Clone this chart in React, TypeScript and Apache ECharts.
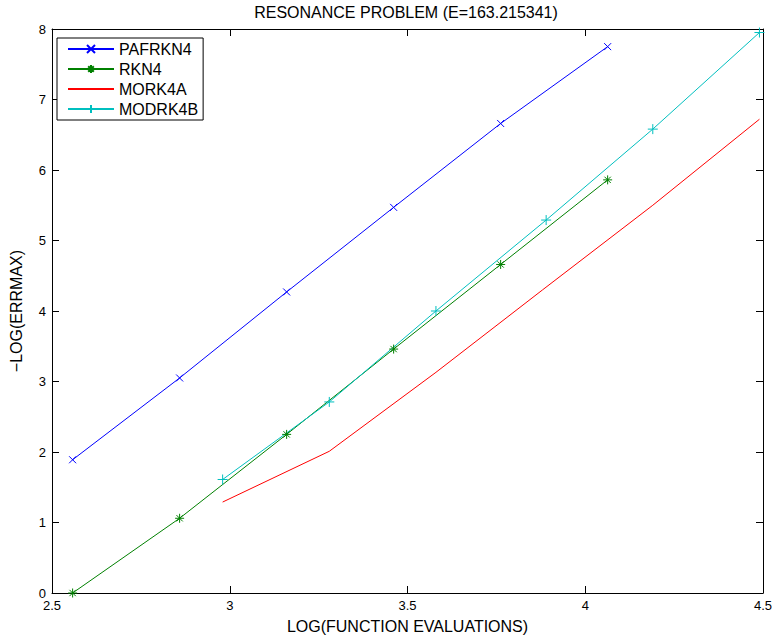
import React, { useEffect, useRef } from "react";
import * as echarts from "echarts";

const xTicks = [2.5, 3, 3.5, 4, 4.5];
const yTicks = [0, 1, 2, 3, 4, 5, 6, 7, 8];

const pafrkn4X = [2.558, 2.859, 3.16, 3.461, 3.762, 4.063];
const pafrkn4Y = [1.89, 3.05, 4.27, 5.47, 6.66, 7.75];

const rkn4X = [2.558, 2.859, 3.16, 3.461, 3.762, 4.063];
const rkn4Y = [0.0, 1.06, 2.25, 3.46, 4.66, 5.86];

const mork4aX = [2.98, 3.28, 3.58, 3.88, 4.19, 4.49];
const mork4aY = [1.29, 2.01, 3.13, 4.3, 5.5, 6.72];

const modrk4bX = [2.98, 3.28, 3.58, 3.89, 4.19, 4.49];
const modrk4bY = [1.61, 2.71, 4.0, 5.29, 6.58, 7.95];

const FONT = "'Liberation Sans', Arial, Helvetica, sans-serif";

const X_MARK = "path://M0,0L10,10M10,0L0,10";
const STAR_MARK = "path://M5,0L5,10M0,5L10,5M1.5,1.5L8.5,8.5M8.5,1.5L1.5,8.5";
const PLUS_MARK = "path://M5,0L5,10M0,5L10,5";

const zip = (xs: number[], ys: number[]) => xs.map((x, i) => [x, ys[i]]);

function makeSeries(name: string, xs: number[], ys: number[], color: string, symbol: string, size: number) {
  return {
    name,
    type: "line",
    data: zip(xs, ys),
    xAxisIndex: 0,
    yAxisIndex: 0,
    symbol,
    symbolSize: size,
    showSymbol: symbol !== "none",
    lineStyle: { color, width: 1 },
    itemStyle: { color, borderColor: color, borderWidth: 1 },
    emphasis: { disabled: true },
  };
}

export default function App() {
  const ref = useRef<HTMLDivElement>(null);

  useEffect(() => {
    document.body.style.margin = "0";
    if (!ref.current) return;
    const chart = echarts.init(ref.current, null, { renderer: "svg" });
    const axisCommon = {
      type: "value",
      axisLine: { show: true, onZero: false, lineStyle: { color: "#000", width: 1 } },
      axisTick: { show: true, inside: true, length: 7, lineStyle: { color: "#000", width: 1 } },
      splitLine: { show: false },
    };
    const labelStyle = { color: "#000", fontFamily: FONT, fontSize: 13 };
    chart.setOption({
      animation: false,
      backgroundColor: "#fff",
      graphic: [
        {
          type: "text",
          x: 406,
          y: 4,
          style: {
            text: "RESONANCE PROBLEM (E=163.215341)",
            fill: "#000",
            font: `16px ${FONT}`,
            textAlign: "center",
            textVerticalAlign: "top",
          },
        },
      ],
      grid: { left: 50, right: 13, top: 29, bottom: 50, containLabel: false },
      legend: {
        orient: "vertical",
        left: 57,
        top: 38,
        itemWidth: 46,
        itemHeight: 10,
        itemGap: 4,
        padding: [3, 5, 3, 10],
        borderColor: "#000",
        borderWidth: 1,
        backgroundColor: "#fff",
        textStyle: { color: "#000", fontFamily: FONT, fontSize: 16 },
        data: [
          "PAFRKN4",
          "RKN4",
          { name: "MORK4A", itemStyle: { color: "transparent", borderColor: "transparent", borderWidth: 0 } },
          "MODRK4B",
        ],
      },
      xAxis: [
        {
          ...axisCommon,
          position: "bottom",
          min: 2.5,
          max: 4.5,
          interval: 0.5,
          axisLabel: { ...labelStyle, margin: 6, formatter: (v: number) => String(v) },
          name: "LOG(FUNCTION EVALUATIONS)",
          nameLocation: "middle",
          nameGap: 25,
          nameTextStyle: { color: "#000", fontFamily: FONT, fontSize: 16 },
        },
        {
          ...axisCommon,
          position: "top",
          min: 2.5,
          max: 4.5,
          interval: 0.5,
          axisLabel: { show: false },
        },
      ],
      yAxis: [
        {
          ...axisCommon,
          position: "left",
          min: 0,
          max: 8,
          interval: 1,
          axisLabel: { ...labelStyle, margin: 6 },
          name: "\u2212LOG(ERRMAX)",
          nameLocation: "middle",
          nameRotate: 90,
          nameGap: 28,
          nameTextStyle: { color: "#000", fontFamily: FONT, fontSize: 16 },
        },
        {
          ...axisCommon,
          position: "right",
          min: 0,
          max: 8,
          interval: 1,
          axisLabel: { show: false },
        },
      ],
      series: [
        makeSeries("PAFRKN4", pafrkn4X, pafrkn4Y, "#0000ff", X_MARK, 7),
        makeSeries("RKN4", rkn4X, rkn4Y, "#008000", STAR_MARK, 9),
        makeSeries("MORK4A", mork4aX, mork4aY, "#ff0000", "none", 0),
        makeSeries("MODRK4B", modrk4bX, modrk4bY, "#00bfbf", PLUS_MARK, 10),
      ],
    });
    return () => chart.dispose();
  }, []);

  return <div ref={ref} style={{ width: 776, height: 643, overflow: "hidden" }} />;
}
